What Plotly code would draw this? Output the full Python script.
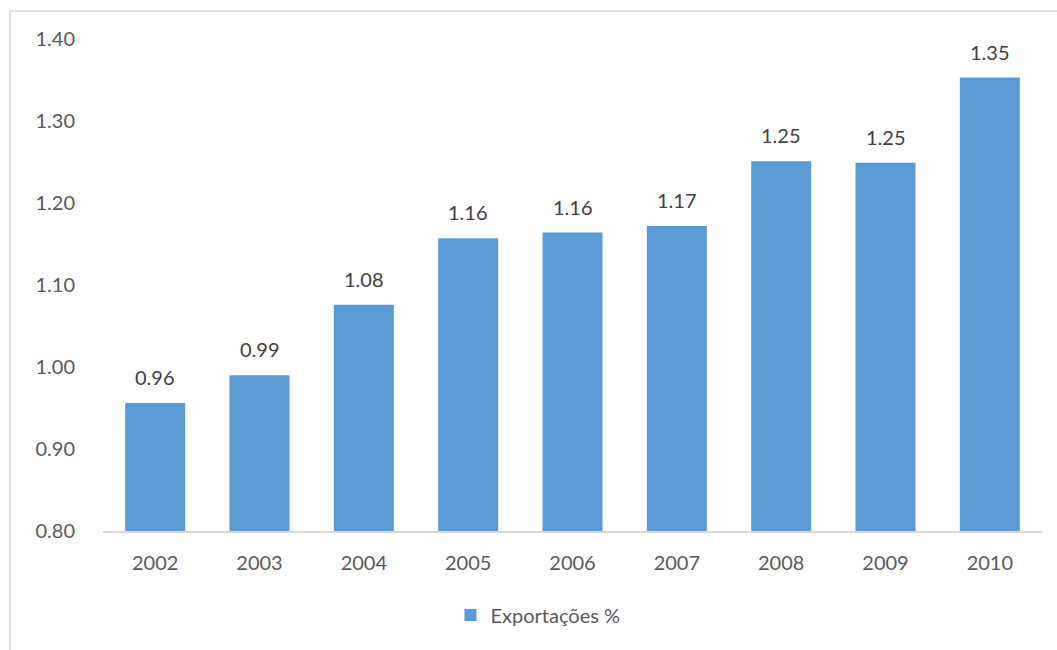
import plotly.graph_objects as go

years = ["2002", "2003", "2004", "2005", "2006", "2007", "2008", "2009", "2010"]
exports = [0.956, 0.990, 1.076, 1.157, 1.164, 1.172, 1.251, 1.249, 1.353]
series_name = "Exportações %"
y_ticks = [0.80, 0.90, 1.00, 1.10, 1.20, 1.30, 1.40]

W, H = 1057, 650
ml, mr, mt, mb = 103, 15, 39, 119
pw, ph = W - ml - mr, H - mt - mb

font_family = "Lato, 'Open Sans', sans-serif"

fig = go.Figure()
fig.add_trace(go.Bar(
    x=years, y=exports, name=series_name,
    marker=dict(color="#5b9bd5", line=dict(width=0)),
    showlegend=True,
))

annotations = []
for i, v in enumerate(exports):
    annotations.append(dict(
        x=i, y=v, xref="x", yref="y", text=f"{v:.2f}", showarrow=False,
        yanchor="bottom", yshift=12,
        font=dict(family=font_family, size=20, color="#404040"),
    ))

def px_x(p):
    return (p - ml) / pw

def px_y(p):
    return (H - mb - p) / ph

fig.update_layout(
    width=W, height=H,
    margin=dict(l=ml, r=mr, t=mt, b=mb),
    plot_bgcolor="white", paper_bgcolor="white",
    bargap=0.425,
    font=dict(family=font_family, size=20, color="#595959"),
    xaxis=dict(
        type="category", range=[-0.5, len(years) - 0.5],
        showgrid=False, showline=True, linecolor="#d9d9d9", linewidth=1.5,
        ticks="", tickfont=dict(size=20, color="#595959"), ticklabelstandoff=13,
    ),
    yaxis=dict(
        range=[0.80, 1.40], tickvals=y_ticks,
        ticktext=[f"{t:.2f}" for t in y_ticks],
        showgrid=False, zeroline=False, showline=False, ticks="",
        tickfont=dict(size=20, color="#595959"), ticklabelstandoff=27,
    ),
    legend=dict(
        orientation="h", x=px_x(538), xanchor="center", y=px_y(615), yanchor="middle",
        font=dict(size=20, color="#595959"), itemwidth=30,
    ),
    annotations=annotations,
    shapes=[dict(
        type="rect", xref="paper", yref="paper",
        x0=px_x(10), x1=px_x(1065), y0=px_y(660), y1=px_y(11),
        line=dict(color="#d9d9d9", width=1.5), fillcolor="rgba(0,0,0,0)", layer="below",
    )],
)

fig.write_html("out.html")
